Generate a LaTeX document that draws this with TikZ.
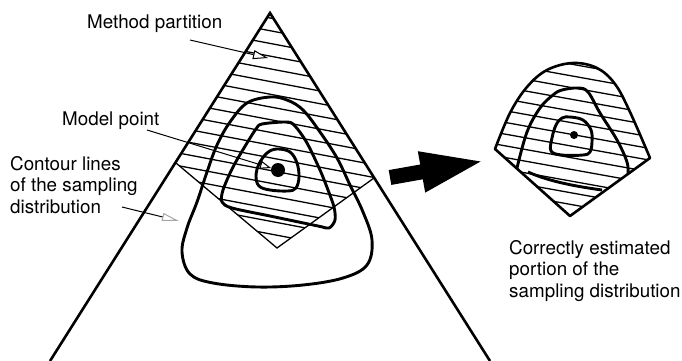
\documentclass[tikz,border=0pt]{standalone}
\usepackage{fontspec}
\setmainfont{TeX Gyre Heros}
\usetikzlibrary{arrows.meta,positioning}

\begin{document}
\begin{tikzpicture}[x=1pt,y=-1pt,
  lbl/.style={font=\fontsize{18.8}{21.5}\selectfont,align=left,inner sep=0pt,anchor=base west},
  hatch/.style={line width=1.3pt},
  contour/.style={line width=2.9pt,line join=round},
  leader/.style={line width=1pt}]
\useasboundingbox (0,0) rectangle (682,361);

\node[lbl] (partlbl) at (87,29) {Method partition};
\node[lbl] (modellbl) at (62,125) {Model point};
\node[lbl] (contourlbl) at (10,213) {Contour lines\\of the sampling\\distribution};
\node[lbl] (correctlbl) at (509,297) {Correctly estimated\\portion of the\\sampling distribution};

\coordinate (apex) at (270,13);
\begin{scope}
  \clip (apex) -- (176,163) -- (277,248) -- (374,178) -- cycle;
  \foreach \k in {0,...,19}
    \draw[hatch] (150,{18+12.7*\k-22.8}) -- (400,{18+12.7*\k+24.7});
\end{scope}
\draw[hatch] (176,163) -- (277,248) -- (374,178);
\draw[line width=2.6pt] (50,361) -- (apex) -- (490,361);

\draw[contour] plot[smooth cycle,tension=0.6] coordinates {(270,97) (287,100) (303,110) (320,132) (337,158) (350,185) (363,212) (372,240) (367,265) (343,278) (303,285) (257,287) (213,283) (190,274) (182,252) (187,228) (197,202) (207,172) (217,145) (230,122) (247,103)};
\draw[contour] plot[smooth cycle,tension=0.5] coordinates {(262,124) (287,122) (295,126) (307,143) (320,170) (328,190) (334,207) (335,220) (329,228) (318,226) (270,216) (232,208) (222,202) (223,190) (233,167) (247,143) (256,129)};
\draw[contour] plot[smooth cycle,tension=0.6] coordinates {(277,149) (290,152) (297,163) (299,177) (296,188) (288,191) (270,190) (259,186) (256,176) (259,164) (267,153)};
\fill (278,170) circle (7);

\coordinate (partfrom) at (190,40);
\coordinate (parttip) at (268,58);
\coordinate (modelfrom) at (147,130);
\coordinate (modeltip) at (271,168);
\coordinate (contourfrom) at (122,207);
\coordinate (contourtip) at (179,221);
\draw[leader,-{Triangle[fill=white,length=15pt,width=9pt]}] (partfrom) -- (parttip);
\draw[leader,-{Triangle[fill=white,length=11pt,width=8pt]}] (modelfrom) -- (modeltip);
\draw[leader,-{Triangle[open,color=black!35,length=17pt,width=8pt]}] (contourfrom) -- (contourtip);

\fill (388.7,170.1) -- (420.2,164.5) -- (417.8,151.2) -- (480.6,161.5) -- (425.2,192.6) -- (422.8,179.3) -- (391.3,184.9) -- cycle;

\begin{scope}
  \clip plot[smooth,tension=0.6] coordinates {(495,149) (510,113) (527,87) (547,70) (573,63) (597,68) (615,84) (630,112) (650,158)} -- (570,216) -- cycle;
  \foreach \k in {-9,...,6}
    \draw[hatch] (485,{144+11.7*\k-1.8}) -- (660,{144+11.7*\k+29.7});
\end{scope}
\draw[line width=2.6pt,line join=round] plot[smooth,tension=0.6] coordinates {(495,149) (510,113) (527,87) (547,70) (573,63) (597,68) (615,84) (630,112) (650,158)} -- (570,216) -- cycle;
\draw[contour] plot[smooth,tension=0.6] coordinates {(517,168) (527,132) (540,108) (553,95) (562,90) (578,88) (588,92) (600,113) (617,140) (627,162) (628,174)};
\draw[contour] (528,172) .. controls (550,182) and (580,187) .. (602,190);
\draw[contour] plot[smooth cycle,tension=0.6] coordinates {(570,117) (583,120) (591,130) (592,142) (590,152) (583,155) (562,155) (551,151) (552,138) (556,125) (562,118)};
\fill (574,135) circle (4);
\end{tikzpicture}
\end{document}
